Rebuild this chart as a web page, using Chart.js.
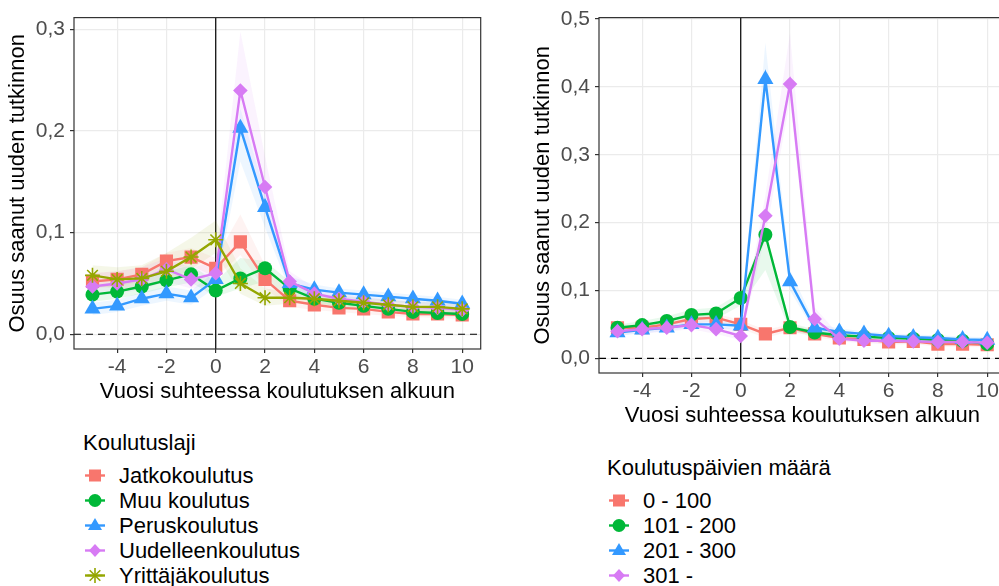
<!DOCTYPE html>
<html>
<head>
<meta charset="utf-8">
<script src="https://cdn.jsdelivr.net/npm/chart.js@4.4.0/dist/chart.umd.min.js"></script>
<style>
  body { margin: 0; width: 999px; height: 586px; overflow: hidden; background: #fff; position: relative;
         font-family: "Liberation Sans", Arial, sans-serif; }
  canvas { position: absolute; top: 0; }
  .legend { position: absolute; color: #000; font-size: 22px; }
  .legend .title { height: 26px; line-height: 26px; margin-bottom: 7px; }
  .legend .item { height: 25px; line-height: 25px; display: flex; align-items: center; }
  .legend svg { width: 24px; height: 25px; margin-right: 12px; flex: none; }
</style>
</head>
<body>
<canvas id="left" width="490" height="410" style="left:0"></canvas>
<canvas id="right" width="490" height="434" style="left:525px"></canvas>
<div id="legLeft" class="legend" style="left:83px; top:430px"></div>
<div id="legRight" class="legend" style="left:607px; top:455px"></div>
<script>
// years relative to start of training
const years = [-5, -4, -3, -2, -1, 0, 1, 2, 3, 4, 5, 6, 7, 8, 9, 10];
const xTicks = [-4, -2, 0, 2, 4, 6, 8, 10];
const yTicksLeft = [0, 0.1, 0.2, 0.3];
const yTicksRight = [0, 0.1, 0.2, 0.3, 0.4, 0.5];

// left panel: Koulutuslaji
const leftNames = ['Jatkokoulutus', 'Muu koulutus', 'Peruskoulutus', 'Uudelleenkoulutus', 'Yrittäjäkoulutus'];
const jatko   = [0.052, 0.054, 0.059, 0.072, 0.076, 0.065, 0.091, 0.054, 0.033, 0.029, 0.026, 0.025, 0.022, 0.020, 0.020, 0.019];
const jatkoHi = [0.060, 0.062, 0.066, 0.080, 0.085, 0.075, 0.118, 0.068, 0.040, 0.034, 0.031, 0.029, 0.027, 0.025, 0.025, 0.024];
const jatkoLo = [0.045, 0.047, 0.052, 0.064, 0.068, 0.056, 0.078, 0.045, 0.027, 0.024, 0.022, 0.020, 0.018, 0.017, 0.016, 0.015];
const muu     = [0.039, 0.042, 0.047, 0.053, 0.059, 0.043, 0.055, 0.065, 0.045, 0.035, 0.031, 0.028, 0.025, 0.022, 0.021, 0.020];
const muuHi   = [0.047, 0.050, 0.055, 0.062, 0.068, 0.052, 0.075, 0.072, 0.052, 0.040, 0.035, 0.032, 0.029, 0.026, 0.025, 0.024];
const muuLo   = [0.032, 0.035, 0.040, 0.046, 0.051, 0.037, 0.045, 0.052, 0.038, 0.031, 0.027, 0.024, 0.021, 0.019, 0.018, 0.017];
const perus   = [0.025, 0.028, 0.035, 0.040, 0.036, 0.054, 0.203, 0.125, 0.050, 0.044, 0.041, 0.039, 0.037, 0.035, 0.033, 0.030];
const perusHi = [0.031, 0.034, 0.041, 0.047, 0.043, 0.062, 0.222, 0.140, 0.057, 0.049, 0.045, 0.043, 0.041, 0.039, 0.037, 0.034];
const perusLo = [0.019, 0.022, 0.028, 0.033, 0.029, 0.046, 0.170, 0.105, 0.043, 0.039, 0.036, 0.034, 0.032, 0.030, 0.028, 0.026];
const uud     = [0.047, 0.050, 0.054, 0.064, 0.054, 0.060, 0.240, 0.145, 0.052, 0.040, 0.035, 0.032, 0.029, 0.027, 0.026, 0.024];
const uudHi   = [0.060, 0.062, 0.066, 0.075, 0.065, 0.072, 0.298, 0.175, 0.062, 0.046, 0.040, 0.037, 0.034, 0.032, 0.031, 0.029];
const uudLo   = [0.038, 0.040, 0.044, 0.052, 0.045, 0.050, 0.205, 0.120, 0.043, 0.034, 0.030, 0.027, 0.025, 0.023, 0.022, 0.020];
const yritt   = [0.058, 0.054, 0.055, 0.062, 0.076, 0.093, 0.050, 0.036, 0.036, 0.035, 0.033, 0.031, 0.029, 0.027, 0.027, 0.025];
const yrittHi = [0.068, 0.066, 0.068, 0.080, 0.095, 0.112, 0.065, 0.045, 0.042, 0.040, 0.038, 0.036, 0.034, 0.032, 0.032, 0.030];
const yrittLo = [0.048, 0.045, 0.045, 0.052, 0.064, 0.080, 0.040, 0.028, 0.030, 0.030, 0.028, 0.026, 0.024, 0.022, 0.022, 0.020];

// right panel: Koulutuspäivien määrä
const rightNames = ['0 - 100', '101 - 200', '201 - 300', '301 -'];
const d100    = [0.045, 0.045, 0.050, 0.058, 0.060, 0.050, 0.036, 0.045, 0.036, 0.030, 0.028, 0.024, 0.025, 0.021, 0.021, 0.020];
const d100Hi  = [0.050, 0.050, 0.055, 0.064, 0.066, 0.056, 0.042, 0.050, 0.041, 0.034, 0.032, 0.028, 0.029, 0.025, 0.025, 0.024];
const d100Lo  = [0.040, 0.040, 0.045, 0.052, 0.054, 0.044, 0.030, 0.040, 0.031, 0.026, 0.024, 0.020, 0.021, 0.017, 0.017, 0.016];
const d200    = [0.045, 0.049, 0.055, 0.064, 0.066, 0.089, 0.182, 0.046, 0.038, 0.034, 0.032, 0.030, 0.029, 0.027, 0.026, 0.021];
const d200Hi  = [0.050, 0.055, 0.062, 0.072, 0.075, 0.097, 0.190, 0.052, 0.043, 0.038, 0.036, 0.034, 0.033, 0.031, 0.030, 0.025];
const d200Lo  = [0.040, 0.043, 0.049, 0.057, 0.058, 0.078, 0.130, 0.040, 0.033, 0.030, 0.028, 0.026, 0.025, 0.023, 0.022, 0.018];
const d300    = [0.038, 0.042, 0.045, 0.050, 0.050, 0.048, 0.411, 0.113, 0.045, 0.039, 0.036, 0.033, 0.031, 0.030, 0.028, 0.027];
const d300Hi  = [0.043, 0.047, 0.050, 0.056, 0.056, 0.055, 0.465, 0.130, 0.052, 0.044, 0.040, 0.037, 0.035, 0.034, 0.032, 0.031];
const d300Lo  = [0.033, 0.037, 0.040, 0.045, 0.044, 0.042, 0.395, 0.100, 0.039, 0.034, 0.032, 0.029, 0.027, 0.026, 0.024, 0.023];
const d301    = [0.040, 0.043, 0.045, 0.049, 0.043, 0.033, 0.210, 0.404, 0.058, 0.029, 0.026, 0.026, 0.025, 0.024, 0.024, 0.023];
const d301Hi  = [0.046, 0.049, 0.051, 0.055, 0.050, 0.040, 0.240, 0.479, 0.075, 0.034, 0.031, 0.030, 0.029, 0.028, 0.028, 0.027];
const d301Lo  = [0.034, 0.037, 0.039, 0.043, 0.036, 0.027, 0.180, 0.380, 0.045, 0.025, 0.022, 0.022, 0.021, 0.020, 0.020, 0.019];

const FONT = '"Liberation Sans", Arial, sans-serif';
const RED = '#F8766D', GREEN = '#00B838', BLUE = '#3399FF', VIOLET = '#D77BF4', OLIVE = '#94A600';

const leftSeries = [
  { name: leftNames[0], color: RED, shape: 'rect', y: jatko, hi: jatkoHi, lo: jatkoLo },
  { name: leftNames[1], color: GREEN, shape: 'circle', y: muu, hi: muuHi, lo: muuLo },
  { name: leftNames[2], color: BLUE, shape: 'triangle', y: perus, hi: perusHi, lo: perusLo },
  { name: leftNames[3], color: VIOLET, shape: 'rectRot', y: uud, hi: uudHi, lo: uudLo },
  { name: leftNames[4], color: OLIVE, shape: 'star', y: yritt, hi: yrittHi, lo: yrittLo }
];
const rightSeries = [
  { name: rightNames[0], color: RED, shape: 'rect', y: d100, hi: d100Hi, lo: d100Lo },
  { name: rightNames[1], color: GREEN, shape: 'circle', y: d200, hi: d200Hi, lo: d200Lo },
  { name: rightNames[2], color: BLUE, shape: 'triangle', y: d300, hi: d300Hi, lo: d300Lo },
  { name: rightNames[3], color: VIOLET, shape: 'rectRot', y: d301, hi: d301Hi, lo: d301Lo }
];

const radius = { rect: 9.3, circle: 7, triangle: 9.3, rectRot: 7.3, star: 7.5 };

function rgba(hex, a) {
  const n = parseInt(hex.slice(1), 16);
  return 'rgba(' + (n >> 16) + ',' + ((n >> 8) & 255) + ',' + (n & 255) + ',' + a + ')';
}
function pts(vals) {
  return years.map((x, i) => ({ x: x, y: vals[i] }));
}

function makeDatasets(series) {
  const out = [];
  series.forEach((s, i) => {
    out.push({ data: pts(s.lo), borderWidth: 0, pointRadius: 0, fill: false, order: 100 });
    out.push({ data: pts(s.hi), borderWidth: 0, pointRadius: 0, fill: '-1',
               backgroundColor: rgba(s.color, 0.09), order: 100 });
  });
  series.forEach((s, i) => {
    out.push({
      label: s.name, data: pts(s.y), borderColor: s.color, backgroundColor: s.color,
      borderWidth: 2.4, fill: false, tension: 0,
      pointStyle: s.shape, pointRadius: radius[s.shape],
      pointBackgroundColor: s.color, pointBorderColor: s.color,
      pointBorderWidth: s.shape === 'star' ? 1.6 : 0,
      order: series.length - i
    });
  });
  return out;
}

const framePlugin = {
  id: 'frame',
  beforeDatasetsDraw(chart) {
    const { ctx, chartArea: a, scales: { x, y } } = chart;
    ctx.save();
    ctx.strokeStyle = '#000';
    ctx.lineWidth = 1.2;
    ctx.setLineDash([7, 5]);
    const y0 = y.getPixelForValue(0);
    ctx.beginPath(); ctx.moveTo(a.left, y0); ctx.lineTo(a.right, y0); ctx.stroke();
    ctx.setLineDash([]);
    const x0 = x.getPixelForValue(0);
    ctx.beginPath(); ctx.moveTo(x0, a.top); ctx.lineTo(x0, a.bottom); ctx.stroke();
    ctx.restore();
  },
  afterDraw(chart) {
    const { ctx, chartArea: a } = chart;
    ctx.save();
    ctx.strokeStyle = '#333';
    ctx.lineWidth = 1.2;
    ctx.strokeRect(a.left, a.top, a.right - a.left, a.bottom - a.top);
    ctx.restore();
  }
};

function makeChart(id, series, yMin, yMax, yTicks) {
  return new Chart(document.getElementById(id), {
    type: 'line',
    data: { datasets: makeDatasets(series) },
    options: {
      responsive: false,
      animation: false,
      devicePixelRatio: 1,
      layout: { padding: { top: 12, right: 9, left: 0, bottom: 0 } },
      plugins: { legend: { display: false }, tooltip: { enabled: false } },
      scales: {
        x: {
          type: 'linear', min: -5.75, max: 10.75,
          afterBuildTicks: s => { s.ticks = xTicks.map(v => ({ value: v })); },
          afterFit: s => { s.height = 61; },
          grid: { color: '#ebebeb', lineWidth: 1.2, tickLength: 4, tickColor: '#333', tickWidth: 1.2 },
          border: { display: false },
          ticks: { color: '#4d4d4d', font: { size: 21, family: FONT }, padding: 2,
                   maxRotation: 0, autoSkip: false, callback: v => String(v) },
          title: { display: true, text: 'Vuosi suhteessa koulutuksen alkuun', color: '#000',
                   font: { size: 22, family: FONT }, padding: { top: 0, bottom: 5 } }
        },
        y: {
          min: yMin, max: yMax,
          afterBuildTicks: s => { s.ticks = yTicks.map(v => ({ value: v })); },
          afterFit: s => { s.width = 74; },
          grid: { color: '#ebebeb', lineWidth: 1.2, tickLength: 4, tickColor: '#333', tickWidth: 1.2 },
          border: { display: false },
          ticks: { color: '#4d4d4d', font: { size: 21, family: FONT }, padding: 5, autoSkip: false,
                   callback: v => v.toFixed(1).replace('.', ',') },
          title: { display: true, text: 'Osuus saanut uuden tutkinnon', color: '#000',
                   font: { size: 22, family: FONT }, padding: { top: 5, bottom: 0 } }
        }
      }
    },
    plugins: [framePlugin]
  });
}

makeChart('left', leftSeries, -0.0145, 0.3117, yTicksLeft);
makeChart('right', rightSeries, -0.0216, 0.502, yTicksRight);

// legends
function symbol(shape, color) {
  let m = '';
  if (shape === 'rect') m = '<rect x="6" y="6.5" width="12" height="12" fill="' + color + '"/>';
  if (shape === 'circle') m = '<circle cx="12" cy="12.5" r="6.5" fill="' + color + '"/>';
  if (shape === 'triangle') m = '<polygon points="12,5 19,17 5,17" fill="' + color + '"/>';
  if (shape === 'rectRot') m = '<polygon points="12,6 18,12.5 12,19 6,12.5" fill="' + color + '"/>';
  if (shape === 'star') m = '<g stroke="' + color + '" stroke-width="1.6">' +
    '<line x1="12" y1="5" x2="12" y2="20"/><line x1="4.5" y1="12.5" x2="19.5" y2="12.5"/>' +
    '<line x1="6.7" y1="7.2" x2="17.3" y2="17.8"/><line x1="6.7" y1="17.8" x2="17.3" y2="7.2"/></g>';
  return '<svg viewBox="0 0 24 25"><line x1="2" y1="12.5" x2="22" y2="12.5" stroke="' + color +
    '" stroke-width="2.4"/>' + m + '</svg>';
}
function legend(id, title, series) {
  const el = document.getElementById(id);
  let html = '<div class="title">' + title + '</div>';
  series.forEach(s => {
    html += '<div class="item">' + symbol(s.shape, s.color) + '<span>' + s.name + '</span></div>';
  });
  el.innerHTML = html;
}
legend('legLeft', 'Koulutuslaji', leftSeries);
legend('legRight', 'Koulutuspäivien määrä', rightSeries);
</script>
</body>
</html>
